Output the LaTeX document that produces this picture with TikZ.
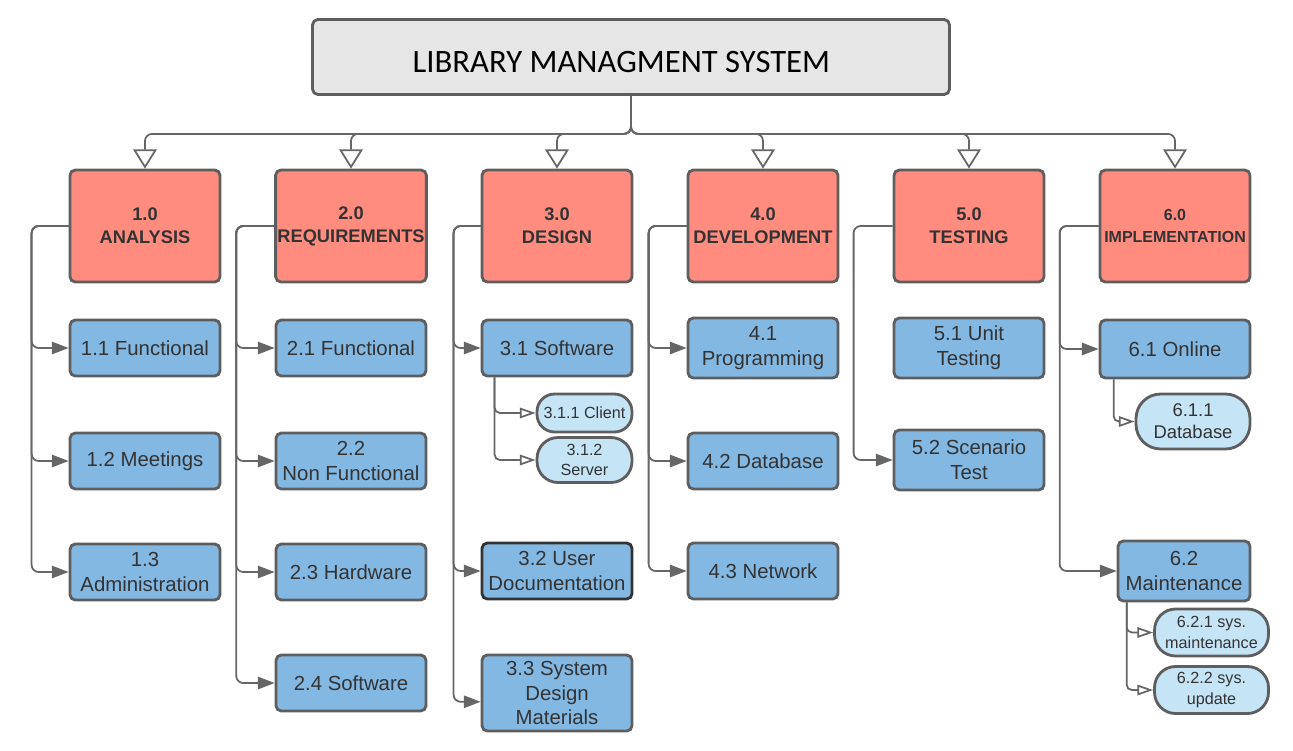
\documentclass[tikz,border=0pt]{standalone}
\usepackage{fontspec}
\usepackage{tikz}
\usetikzlibrary{arrows.meta}
\newfontfamily\boxfont{Liberation Sans}
\newfontfamily\titlefont{Carlito}

\definecolor{linegray}{HTML}{5E5E5E}
\definecolor{conn}{HTML}{666666}
\definecolor{txtgray}{HTML}{333333}
\definecolor{topgray}{HTML}{E6E6E6}
\definecolor{phasered}{HTML}{FF8C7E}
\definecolor{taskblue}{HTML}{83B8E3}
\definecolor{pillblue}{HTML}{C5E5F7}

\tikzset{
  boxbase/.style={draw=linegray, line width=1.6pt, rounded corners=3pt, align=center, inner sep=1pt, text=txtgray},
  topbox/.style={boxbase, fill=topgray, minimum width=12.74cm, minimum height=1.5cm, text height=17.5pt, text=black, font=\titlefont\fontsize{18.6}{22}\selectfont},
  phase/.style={boxbase, fill=phasered, minimum width=3cm, minimum height=2.24cm, font=\boxfont\bfseries\fontsize{10.4}{13}\selectfont},
  task/.style={boxbase, fill=taskblue, minimum width=3cm, minimum height=1.12cm, font=\boxfont\fontsize{11.6}{14}\selectfont},
  pill/.style={boxbase, fill=pillblue, rounded corners=12pt, minimum width=2.28cm, minimum height=0.94cm, font=\boxfont\fontsize{9.2}{11.5}\selectfont},
  topflow/.style={draw=conn, line width=1pt, rounded corners=4pt, -{Triangle[open, length=11pt, width=13.5pt, line width=1pt]}},
  branch/.style={draw=conn, line width=1pt, rounded corners=4pt, -{Triangle[length=9.5pt, width=7pt]}},
  subflow/.style={draw=conn, line width=1pt, rounded corners=3pt, -{Triangle[open, length=9pt, width=6pt, line width=1pt]}}
}

\begin{document}
\begin{tikzpicture}[x=0.02cm, y=-0.02cm]
\useasboundingbox (0,0) rectangle (1293,750);

% root
\node[topbox] (top) at (631,57) {LIBRARY MANAGMENT SYSTEM\kern 11pt};

% phases
\node[phase] (p1) at (145,226) {1.0\\ANALYSIS};
\node[phase] (p2) at (351,226) {2.0\\REQUIREMENTS};
\node[phase] (p3) at (557,226) {3.0\\DESIGN};
\node[phase] (p4) at (763,226) {4.0\\DEVELOPMENT};
\node[phase] (p5) at (969,226) {5.0\\TESTING};
\node[phase, font=\boxfont\bfseries\fontsize{9.1}{13}\selectfont] (p6) at (1175,226) {6.0\\IMPLEMENTATION};

\foreach \k in {1,...,6}
  \draw[topflow] (top.south) -- ++(0,38) -| (p\k.north);

% 1.0
\node[task] (t11) at (145,348) {1.1 Functional};
\node[task] (t12) at (145,461) {1.2 Meetings};
\node[task] (t13) at (145,572) {1.3\\Administration};
\foreach \t in {t11,t12,t13}
  \draw[branch] (p1.west) -- ++(-37,0) |- (\t.west);

% 2.0
\node[task] (t21) at (351,348) {2.1 Functional};
\node[task] (t22) at (351,461) {2.2\\Non Functional};
\node[task] (t23) at (351,572) {2.3 Hardware};
\node[task] (t24) at (351,683) {2.4 Software};
\foreach \t in {t21,t22,t23,t24}
  \draw[branch] (p2.west) -- ++(-38,0) |- (\t.west);

% 3.0
\node[task] (t31) at (557,348) {3.1 Software};
\node[task, draw=black!80] (t32) at (557,571) {3.2 User\\Documentation};
\node[task, minimum height=1.52cm] (t33) at (557,693) {3.3 System\\Design\\Materials};
\node[pill, rounded corners=10pt, minimum width=1.9cm, minimum height=0.76cm] (s311) at (584.5,413) {3.1.1 Client};
\node[pill, minimum width=1.9cm, minimum height=0.9cm] (s312) at (584.5,460) {3.1.2\\Server};
\draw[branch] (p3.west) -- ++(-27,0) |- (t31.west);
\draw[branch] (p3.west) -- ++(-27,0) |- (t32.west);
\draw[branch] (p3.west) -- ++(-27,0) |- ([yshift=-5pt]t33.west);
\draw[subflow] (t31.south west) ++(14,0) |- (s311.west);
\draw[subflow] (t31.south west) ++(14,0) |- (s312.west);

% 4.0
\node[task, minimum height=1.2cm] (t41) at (763,348) {4.1\\Programming};
\node[task] (t42) at (763,461) {4.2 Database};
\node[task] (t43) at (763,571) {4.3 Network};
\foreach \t in {t41,t42,t43}
  \draw[branch] (p4.west) -- ++(-38,0) |- (\t.west);

% 5.0
\node[task, minimum height=1.2cm] (t51) at (969,348) {5.1 Unit\\Testing};
\node[task, minimum height=1.2cm] (t52) at (969,460) {5.2 Scenario\\Test};
\draw[branch] (p5.west) -- ++(-39,0) |- (t52.west);

% 6.0
\node[task, minimum height=1.16cm] (t61) at (1175,349) {6.1 Online};
\node[task, minimum width=2.64cm, minimum height=1.2cm] (t62) at (1184,571) {6.2\\Maintenance};
\node[pill, rounded corners=14pt, minimum height=1.1cm, font=\boxfont\fontsize{10.5}{12.5}\selectfont] (s611) at (1193,421.5) {6.1.1\\Database};
\node[pill] (s621) at (1211.5,632.5) {6.2.1 sys.\\maintenance};
\node[pill] (s622) at (1211.5,690) {6.2.2 sys.\\update};
\draw[branch] (p6.west) -- ++(-39,0) |- (t61.west);
\draw[branch] (p6.west) -- ++(-39,0) |- (t62.west);
\draw[subflow] (t61.south west) ++(15,0) |- (s611.west);
\draw[subflow] (t62.south west) ++(10,0) |- (s621.west);
\draw[subflow] (t62.south west) ++(10,0) |- (s622.west);

\end{tikzpicture}
\end{document}
